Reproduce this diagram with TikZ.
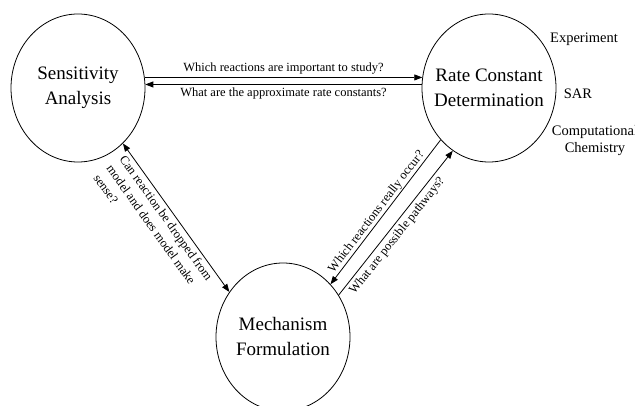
\documentclass[tikz,border=0pt]{standalone}
\usepackage{fontspec}
\setmainfont{Liberation Serif}
\newfontfamily\tnr{Liberation Serif}
\usetikzlibrary{shapes.geometric,arrows.meta}
\tikzset{
  blob/.style={draw, ellipse, minimum width=134pt, minimum height=148pt, inner sep=0pt, line width=0.8pt},
  big/.style={font=\tnr\fontsize{19}{25}\selectfont, align=center},
  small/.style={font=\tnr\fontsize{12.5}{16}\selectfont},
  side/.style={font=\tnr\fontsize{14.5}{17}\selectfont, align=center},
  arr/.style={line width=0.8pt, ->}
}
\begin{document}
\begin{tikzpicture}[x=1pt, y=-1pt, >={Triangle[length=8pt,width=6pt]}]
        \useasboundingbox (0, 0) rectangle (635, 406);
        \clip (0, 0) rectangle (635, 406);
        \node[blob] (sa)  at (78, 88)   {};
        \node[blob] (rcd) at (489, 88)  {};
        \node[blob] (mf)  at (283, 337) {};
        \node[big] (sa-t)  at (sa)  {Sensitivity\\Analysis};
        \node[big] (rcd-t) at (rcd) {Rate Constant\\Determination};
        \node[big] (mf-t)  at (mf)  {Mechanism\\Formulation};
        \draw[arr] (sa.9) -- node[pos=0.5, above, small] {Which reactions are important to study?} (rcd.171);
        \draw[arr] (rcd.177) -- node[pos=0.5, below, small] {What are the approximate rate constants?} (sa.3);
        \draw[arr, <->] (sa.-51) -- node[pos=0.47, below, sloped, small, align=left]
              {Can reaction be dropped from\\model and does model make\\sense?} (mf.140);
        \draw[arr] (rcd.227) -- node[pos=0.53, above, sloped, small, inner sep=1pt] {Which reactions really occur?} (mf.48);
        \draw[arr] (mf.37) -- node[pos=0.45, below, sloped, small] {What are possible pathways?} (rcd.240);
        \node[side] (exp) at (584, 39)  {Experiment};
        \node[side] (sar) at (578, 94)  {SAR};
        \node[side] (cc)  at (595, 141) {Computational\\Chemistry};
\end{tikzpicture}
\end{document}
